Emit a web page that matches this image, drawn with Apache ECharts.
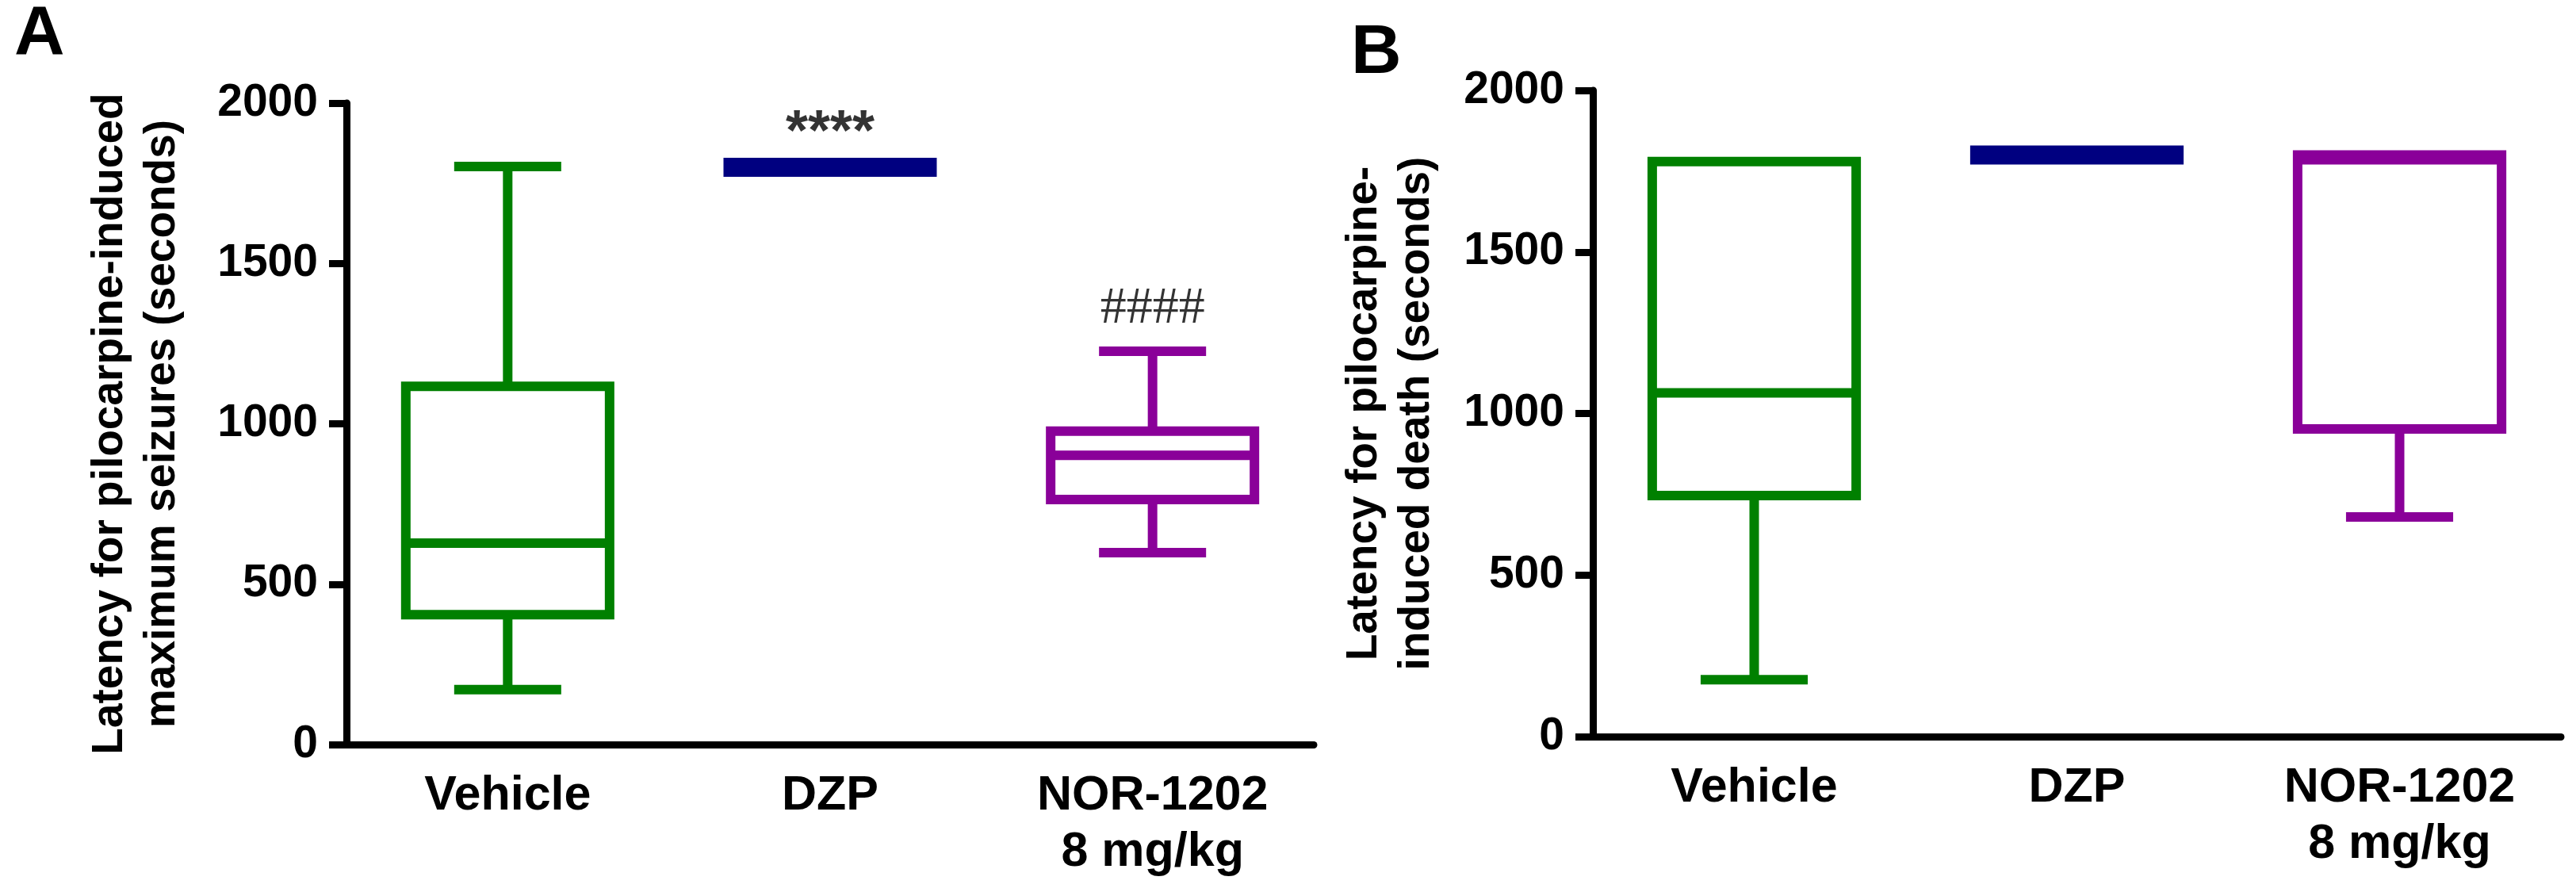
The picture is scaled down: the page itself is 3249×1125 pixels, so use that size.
<!DOCTYPE html>
<html>
<head>
<meta charset="utf-8">
<script src="https://cdn.jsdelivr.net/npm/echarts@6/dist/echarts.min.js"></script>
<style>
    html, body { margin: 0; padding: 0; background: #fff; }
    #main { width: 3249px; height: 1125px; }
</style>
</head>
<body>
<div id="main"></div>
<script>
// groups on the x axis
var groups = ['Vehicle', 'DZP', 'NOR-1202\n8 mg/kg'];
var colors = ['#008000', '#000080', '#8a0099'];

// A: latency for maximum seizures (s), [min, Q1, median, Q3, max]
var seizureA = [
    [171, 405, 628, 1117, 1802],
    [1800, 1800, 1800, 1800, 1800],
    [598, 764, 902, 977, 1226]
];
// B: latency for death (s), [min, Q1, median, Q3, max]
var deathB = [
    [176, 746, 1064, 1780, 1780],
    [1800, 1800, 1800, 1800, 1800],
    [680, 952, 1785, 1800, 1800]
];
var yTicks = [0, 500, 1000, 1500, 2000];
// significance marks above each group in A
var marksA = ['', '****', '####'];

var FONT = 'Liberation Sans, Arial, sans-serif';
var LW = 12;

// GraphPad style box: half-width caps, thick line when the box is flat
function boxItem(params, api) {
    var c = api.value(0);
    var v = [api.value(1), api.value(2), api.value(3), api.value(4), api.value(5)];
    var p = v.map(function (d) { return api.coord([c, d]); });
    var band = api.size([1, 0])[0];
    var half = band * 0.316;
    var capHalf = band * 0.166;
    var x = p[0][0];
    var color = colors[c];
    var st = { stroke: color, lineWidth: LW, fill: null, lineCap: 'butt' };
    var kids = [];
    if (v[4] > v[3]) {
        kids.push({ type: 'line', shape: { x1: x, y1: p[3][1], x2: x, y2: p[4][1] }, style: st });
        kids.push({ type: 'line', shape: { x1: x - capHalf, y1: p[4][1], x2: x + capHalf, y2: p[4][1] }, style: st });
    }
    if (v[1] > v[0]) {
        kids.push({ type: 'line', shape: { x1: x, y1: p[1][1], x2: x, y2: p[0][1] }, style: st });
        kids.push({ type: 'line', shape: { x1: x - capHalf, y1: p[0][1], x2: x + capHalf, y2: p[0][1] }, style: st });
    }
    if (v[3] === v[1]) {
        kids.push({ type: 'line', shape: { x1: x - half - LW / 2, y1: p[2][1], x2: x + half + LW / 2, y2: p[2][1] },
            style: { stroke: color, lineWidth: LW * 2, lineCap: 'butt' } });
    } else {
        kids.push({ type: 'rect', shape: { x: x - half, y: p[3][1], width: half * 2, height: p[1][1] - p[3][1] },
            style: { stroke: color, lineWidth: LW, fill: null, lineJoin: 'miter' } });
        kids.push({ type: 'line', shape: { x1: x - half, y1: p[2][1], x2: x + half, y2: p[2][1] }, style: st });
    }
    return { type: 'group', children: kids };
}

function boxData(rows) {
    return rows.map(function (r, i) { return [i].concat(r); });
}

function xAx(idx) {
    return {
        type: 'category', gridIndex: idx, data: groups,
        axisLine: { lineStyle: { color: '#000', width: 9 } },
        axisTick: { alignWithLabel: true, length: 22, lineStyle: { color: '#000', width: 8 } },
        axisLabel: { color: '#000', fontFamily: FONT, fontWeight: 'bold', fontSize: 61, lineHeight: 71, margin: 30 }
    };
}

function yAx(idx, name, gap) {
    return {
        type: 'value', gridIndex: idx, min: yTicks[0], max: yTicks[yTicks.length - 1], interval: 500,
        name: name, nameLocation: 'middle', nameGap: gap,
        nameTextStyle: { color: '#000', fontFamily: FONT, fontWeight: 'bold', fontSize: 55, lineHeight: 66 },
        axisLine: { show: true, lineStyle: { color: '#000', width: 9 } },
        axisTick: { show: true, length: 22, lineStyle: { color: '#000', width: 9 } },
        axisLabel: { color: '#000', fontFamily: FONT, fontWeight: 'bold', fontSize: 57, margin: 36,
            formatter: function (val) { return String(val); } },
        splitLine: { show: false }
    };
}

var myChart = echarts.init(document.getElementById('main'));
myChart.setOption({
    backgroundColor: '#fff',
    animation: false,
    grid: [
        { left: 437, top: 130, width: 1220, height: 809 },
        { left: 2009, top: 114, width: 1221, height: 815 }
    ],
    xAxis: [xAx(0), xAx(1)],
    yAxis: [
        yAx(0, 'Latency for pilocarpine-induced\nmaximum seizures (seconds)', 199),
        yAx(1, 'Latency for pilocarpine-\ninduced death (seconds)', 189)
    ],
    graphic: [
        { type: 'text', left: 18, top: 0, style: { text: 'A', font: 'bold 88px ' + FONT, fill: '#000' } },
        { type: 'text', left: 1704, top: 24, style: { text: 'B', font: 'bold 88px ' + FONT, fill: '#000' } }
    ],
    series: [
        {
            type: 'custom', name: 'seizures', xAxisIndex: 0, yAxisIndex: 0, clip: false,
            renderItem: boxItem, encode: { x: 0, y: [1, 2, 3, 4, 5] },
            data: boxData(seizureA)
        },
        {
            type: 'custom', name: 'death', xAxisIndex: 1, yAxisIndex: 1, clip: false,
            renderItem: boxItem, encode: { x: 0, y: [1, 2, 3, 4, 5] },
            data: boxData(deathB)
        },
        {
            type: 'scatter', xAxisIndex: 0, yAxisIndex: 0, symbolSize: 0, silent: true,
            data: [
                { value: [1, seizureA[1][4]], label: { formatter: marksA[1], distance: 6, color: '#000',
                    fontFamily: FONT, fontWeight: 'bold', fontSize: 72 } },
                { value: [2, seizureA[2][4]], label: { formatter: marksA[2], distance: 20, color: '#000',
                    fontFamily: 'Liberation Serif, Times New Roman, serif', fontWeight: 'normal', fontSize: 66 } }
            ],
            label: { show: true, position: 'top', color: '#000' }
        }
    ]
});
</script>
</body>
</html>
